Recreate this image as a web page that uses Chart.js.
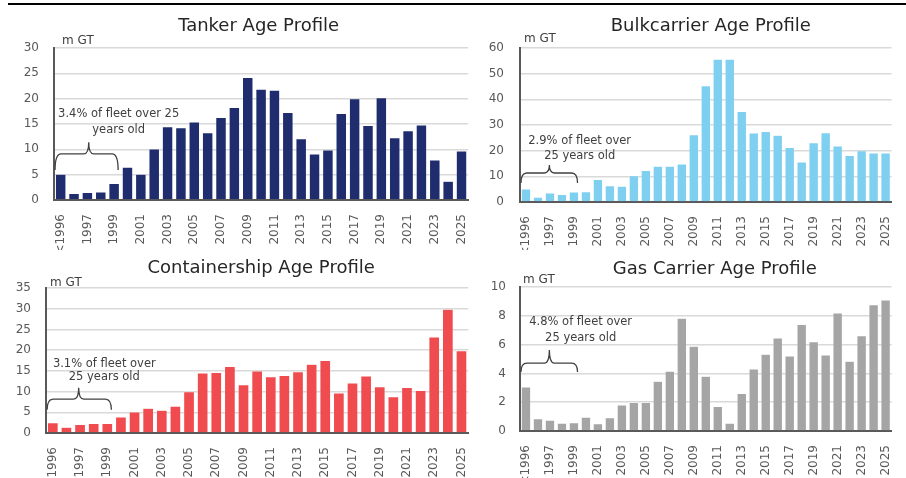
<!DOCTYPE html>
<html lang="en">
<head>
  <meta charset="UTF-8" />
  <title>Fleet Age Profiles</title>
  <script src="https://cdn.jsdelivr.net/npm/chart.js"></script>
  <style>
    body {
      margin: 0;
      width: 906px;
      height: 478px;
      background: #ffffff;
      position: relative;
      overflow: hidden;
      font-family: 'DejaVu Sans', sans-serif;
    }
    .topline {
      position: absolute;
      left: 8px;
      top: 3px;
      width: 898px;
      height: 2px;
      background: #000;
    }
    .panel {
      position: absolute;
    }
  </style>
</head>
<body>
  <div class="topline"></div>
  <div class="panel" style="left:0;top:0;width:482px;height:250px"><canvas id="tanker"></canvas></div>
  <div class="panel" style="left:470px;top:0;width:436px;height:250px"><canvas id="bulk"></canvas></div>
  <div class="panel" style="left:0;top:240px;width:482px;height:238px"><canvas id="container"></canvas></div>
  <div class="panel" style="left:470px;top:240px;width:436px;height:238px"><canvas id="gas"></canvas></div>

  <script>
    // categorias: <1996 y luego cada año hasta 2025
    const years = ['<1996', '1996', '1997', '1998', '1999', '2000', '2001', '2002', '2003', '2004',
      '2005', '2006', '2007', '2008', '2009', '2010', '2011', '2012', '2013', '2014',
      '2015', '2016', '2017', '2018', '2019', '2020', '2021', '2022', '2023', '2024', '2025'];

    const tankerGT = [5.1, 1.3, 1.5, 1.6, 3.3, 6.5, 5.1, 10.1, 14.5, 14.3, 15.4, 13.3, 16.3, 18.3, 24.2, 21.9,
      21.7, 17.3, 12.1, 9.1, 9.9, 17.1, 20.0, 14.7, 20.2, 12.3, 13.7, 14.8, 7.9, 3.7, 9.7];
    const bulkGT = [5.1, 1.9, 3.5, 3.0, 3.9, 4.0, 8.8, 6.4, 6.2, 10.3, 12.3, 14.0, 14.0, 14.8, 26.2, 45.3,
      55.7, 55.7, 35.3, 26.9, 27.5, 26.0, 21.3, 15.6, 23.1, 27.0, 21.9, 18.2, 20.0, 19.1, 19.1];
    const containerGT = [2.5, 1.4, 2.1, 2.3, 2.3, 3.9, 5.1, 6.0, 5.5, 6.5, 10.0, 14.5, 14.6, 16.1, 11.7, 15.0,
      13.6, 13.9, 14.8, 16.6, 17.5, 9.7, 12.1, 13.8, 11.2, 8.8, 11.0, 10.3, 23.2, 29.9, 19.9];
    const gasGT = [3.07, 0.85, 0.76, 0.55, 0.58, 0.97, 0.51, 0.92, 1.82, 1.99, 1.99, 3.46, 4.16, 7.83, 5.89, 3.81,
      1.71, 0.55, 2.61, 4.32, 5.33, 6.47, 5.22, 7.41, 6.21, 5.29, 8.20, 4.85, 6.63, 8.78, 9.10];

    const tankerTicks = [0, 5, 10, 15, 20, 25, 30];
    const bulkTicks = [0, 10, 20, 30, 40, 50, 60];
    const containerTicks = [0, 5, 10, 15, 20, 25, 30, 35];
    const gasTicks = [0, 2, 4, 6, 8, 10];

    const titles = ['Tanker Age Profile', 'Bulkcarrier Age Profile', 'Containership Age Profile', 'Gas Carrier Age Profile'];
    const notes = [
      ['3.4% of fleet over 25', 'years old'],
      ['2.9% of fleet over', '25 years old'],
      ['3.1% of fleet over', '25 years old'],
      ['4.8% of fleet over', '25 years old']
    ];

    const fuente = "'DejaVu Sans', sans-serif";
    const gris = '#595959';

    // titulo, "m GT", llave y nota
    const decoPlugin = {
      id: 'deco',
      afterDraw(chart, args, o) {
        const { ctx, chartArea, scales } = chart;
        const x = scales.x, y = scales.y;
        ctx.save();
        ctx.fillStyle = '#262626';
        ctx.font = '18px ' + fuente;
        ctx.textAlign = 'center';
        ctx.textBaseline = 'middle';
        ctx.fillText(o.title, (chartArea.left + chartArea.right) / 2 + o.titleDx, o.titleY);

        ctx.font = '12px ' + fuente;
        ctx.fillStyle = '#404040';
        ctx.textAlign = 'left';
        ctx.fillText('m GT', chartArea.left + o.unitDx, o.unitY);

        ctx.font = '11.5px ' + fuente;
        ctx.textAlign = 'center';
        const cx = x.getPixelForValue(o.noteX);
        ctx.fillText(o.note[0], cx, y.getPixelForValue(o.t1));
        ctx.fillText(o.note[1], cx, y.getPixelForValue(o.t2));

        // llave
        const x0 = x.getPixelForValue(-0.42), x1 = x.getPixelForValue(4.3);
        const xm = x.getPixelForValue(o.braceMid);
        const yEnd = y.getPixelForValue(o.bEnd), yH = y.getPixelForValue(o.bH), yP = y.getPixelForValue(o.bPeak);
        ctx.strokeStyle = '#404040';
        ctx.lineWidth = 1.3;
        ctx.beginPath();
        ctx.moveTo(x0, yEnd);
        ctx.quadraticCurveTo(x0, yH, x0 + 6, yH);
        ctx.lineTo(xm - 5, yH);
        ctx.quadraticCurveTo(xm, yH, xm, yP);
        ctx.quadraticCurveTo(xm, yH, xm + 5, yH);
        ctx.lineTo(x1 - 6, yH);
        ctx.quadraticCurveTo(x1, yH, x1, yEnd);
        ctx.stroke();
        ctx.restore();
      }
    };

    function crearGrafica(id, valores, color, ticks, idx, cfg) {
      const ctx = document.getElementById(id).getContext('2d');
      return new Chart(ctx, {
        type: 'bar',
        data: {
          labels: years,
          datasets: [{
            data: valores,
            backgroundColor: color,
            borderColor: 'rgba(255,255,255,0.35)',
            borderWidth: 0.6,
            categoryPercentage: 1,
            barPercentage: 0.8
          }]
        },
        options: {
          responsive: true,
          maintainAspectRatio: false,
          animation: false,
          layout: { padding: { top: cfg.top, right: cfg.right, left: 0, bottom: 0 } },
          plugins: {
            legend: { display: false },
            tooltip: { enabled: false },
            deco: Object.assign({ title: titles[idx], note: notes[idx] }, cfg.deco)
          },
          scales: {
            x: {
              grid: { display: false },
              border: { display: true, color: gris, width: 2 },
              ticks: {
                autoSkip: false,
                minRotation: 90,
                maxRotation: 90,
                padding: 6,
                color: gris,
                font: { family: fuente, size: 12 },
                callback: function (v, i) { return i % 2 === 0 ? years[i] : ''; }
              },
              afterFit(scale) { scale.height = cfg.xh; }
            },
            y: {
              min: 0,
              max: ticks[ticks.length - 1],
              afterBuildTicks(scale) { scale.ticks = ticks.map(v => ({ value: v })); },
              grid: { color: '#d9d9d9', lineWidth: 1.5, drawTicks: false },
              border: { display: true, color: gris, width: 2 },
              ticks: {
                padding: cfg.tickPad,
                color: gris,
                font: { family: fuente, size: 12 }
              },
              afterFit(scale) { scale.width = cfg.left; }
            }
          }
        },
        plugins: [decoPlugin]
      });
    }

    window.onload = () => {
      crearGrafica('tanker', tankerGT, '#1f2d6e', tankerTicks, 0, {
        top: 48, right: 5, xh: 50, left: 54, tickPad: 15,
        deco: { titleDx: -2.5, titleY: 26, unitDx: 8, unitY: 41, noteX: 4.34, t1: 17.0, t2: 13.8,
          braceMid: 2.1, bEnd: 5.9, bH: 9.1, bPeak: 11.4 }
      });
      crearGrafica('bulk', bulkGT, '#7fcff0', bulkTicks, 1, {
        top: 48, right: 0, xh: 48, left: 50, tickPad: 16,
        deco: { titleDx: 5, titleY: 26, unitDx: 4, unitY: 39, noteX: 4.48, t1: 23.8, t2: 17.9,
          braceMid: 1.95, bEnd: 7.4, bH: 11.3, bPeak: 14.4 }
      });
      crearGrafica('container', containerGT, '#f04c50', containerTicks, 2, {
        top: 48, right: 8, xh: 45, left: 46, tickPad: 15,
        deco: { titleDx: 4, titleY: 28, unitDx: 4, unitY: 43, noteX: 3.78, t1: 16.7, t2: 13.5,
          braceMid: 1.9, bEnd: 5.6, bH: 8.2, bPeak: 10.9 }
      });
      crearGrafica('gas', gasGT, '#a5a5a5', gasTicks, 3, {
        top: 47, right: 0, xh: 47, left: 50, tickPad: 14,
        deco: { titleDx: 9, titleY: 29, unitDx: 3, unitY: 40, noteX: 4.56, t1: 7.57, t2: 6.46,
          braceMid: 1.95, bEnd: 4.1, bH: 4.72, bPeak: 5.63 }
      });
    };
  </script>
</body>
</html>
